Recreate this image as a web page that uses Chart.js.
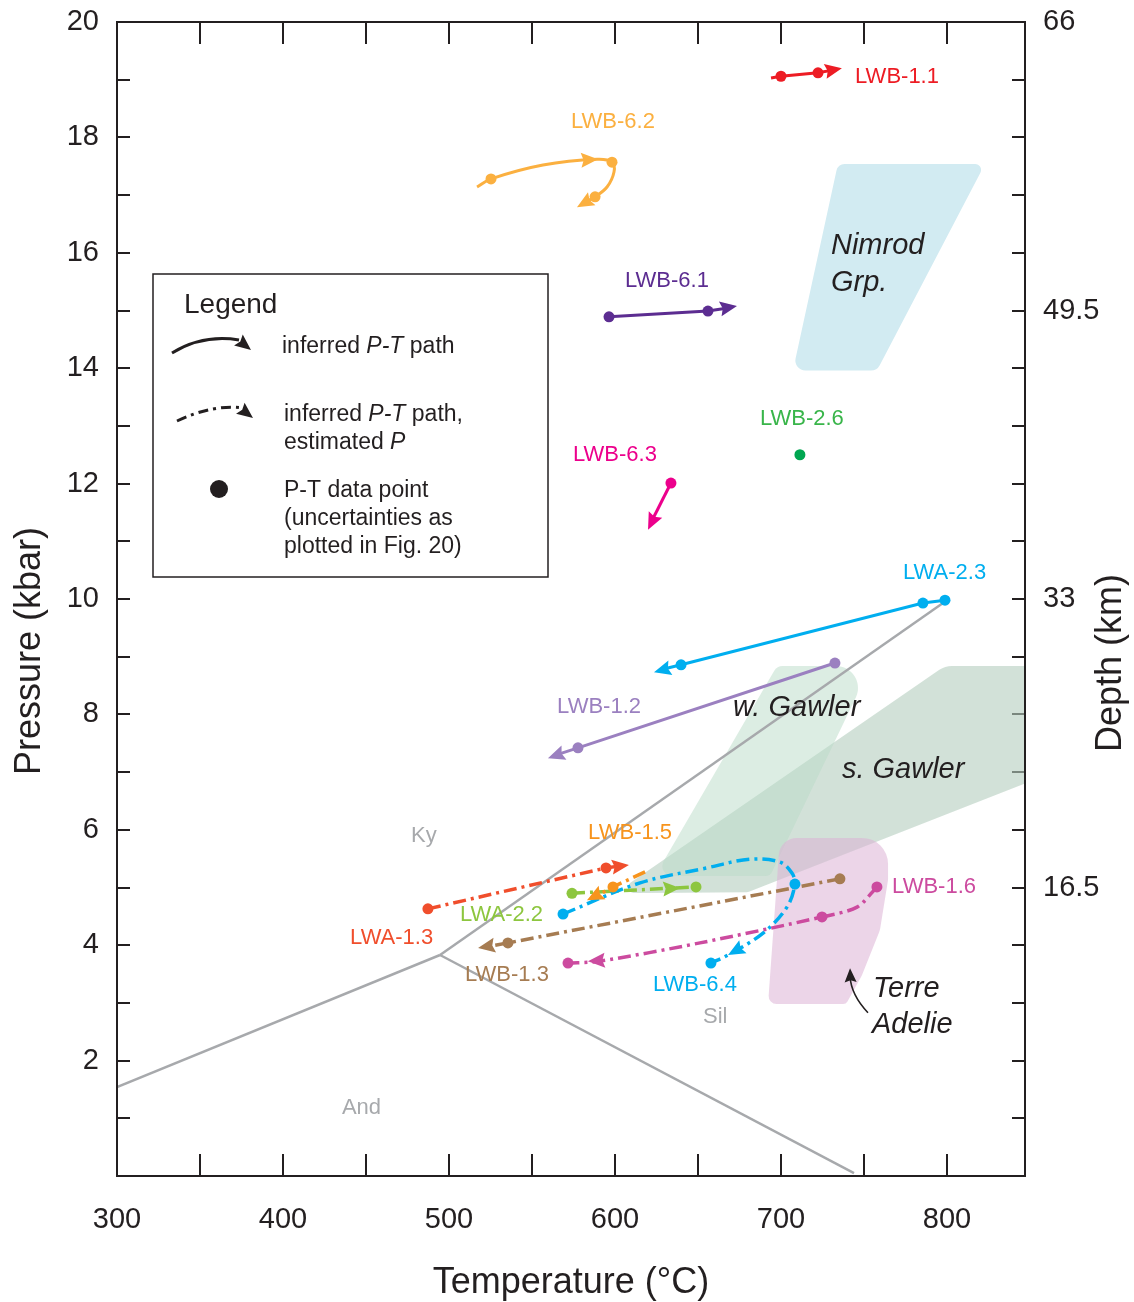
<!DOCTYPE html>
<html>
<head>
<meta charset="utf-8">
<title>P-T paths</title>
<script src="https://cdn.jsdelivr.net/npm/chart.js@4.4.1/dist/chart.umd.min.js"></script>
<style>
  html, body { margin: 0; padding: 0; background: #ffffff; }
  #wrap { width: 1134px; height: 1302px; position: relative; }
</style>
</head>
<body>
<div id="wrap"><canvas id="pt"></canvas></div>
<script>
const FONT = '"Liberation Sans", Arial, Helvetica, sans-serif';
const INK = '#231F20';

// ---- axis ticks ----
const tempTicks = [300, 400, 500, 600, 700, 800];
const pressureTicks = [2, 4, 6, 8, 10, 12, 14, 16, 18, 20];
const depthTicks = [16.5, 33, 49.5, 66];

// ---- Al2SiO5 phase boundaries [T (°C), P (kbar)] ----
const kyaniteSillimanite = [[494.6, 3.83], [797.6, 9.93]];
const kyaniteAndalusite = [[494.6, 3.83], [300, 1.54]];
const andalusiteSillimanite = [[494.6, 3.83], [744, 0.05]];

// ---- comparison P-T fields ----
const nimrodField = [[734.3, 17.54], [822.9, 17.54], [757.8, 13.96], [707.2, 13.96]];
const wGawlerField = [[697.6, 8.84], [754.2, 8.84], [693.4, 5.20], [624.1, 5.20]];
const sGawlerField = [[600.0, 4.90], [798.8, 8.84], [852, 8.84], [852, 6.86], [680.1, 4.92]];
const terreAdelieField = [[699.4, 5.86], [764.5, 5.86], [764.5, 5.13], [759.6, 4.26], [748.8, 3.48], [739.2, 2.98], [692.2, 2.98]];

// ---- samples: path, P-T data points, arrows [from, tip] ----
const lwb11Path = [[694, 19.03], [700, 19.06], [722.3, 19.12], [732, 19.17]];
const lwb11Points = [[700, 19.06], [722.3, 19.12]];
const lwb11Arrows = [[[722.3, 19.12], [736.7, 19.20]]];

const lwb62Path = [[516.9, 17.14], [525.3, 17.28], [556.6, 17.52], [589.2, 17.62], [598.2, 17.57], [599.4, 17.40], [595.2, 17.14], [588.0, 16.97], [581, 16.86]];
const lwb62Points = [[525.3, 17.28], [598.2, 17.57], [588.0, 16.97]];
const lwb62Arrows = [[[578, 17.60], [589.8, 17.62]], [[588.0, 16.97], [577.1, 16.79]]];

const lwb61Path = [[596.4, 14.89], [656.0, 14.99], [667, 15.04]];
const lwb61Points = [[596.4, 14.89], [656.0, 14.99]];
const lwb61Arrows = [[[656.0, 14.99], [673.5, 15.08]]];

const lwb63Path = [[633.7, 12.01], [623, 11.40]];
const lwb63Points = [[633.7, 12.01]];
const lwb63Arrows = [[[633.7, 12.01], [619.9, 11.20]]];

const lwb26Points = [[711.4, 12.50]];

const lwa23Path = [[798.8, 9.98], [785.5, 9.93], [639.8, 8.86], [630, 8.79]];
const lwa23Points = [[798.8, 9.98], [785.5, 9.93], [639.8, 8.86]];
const lwa23Arrows = [[[639.8, 8.86], [623.5, 8.73]]];

const lwb12Path = [[732.5, 8.89], [577.7, 7.42], [567, 7.32]];
const lwb12Points = [[732.5, 8.89], [577.7, 7.42]];
const lwb12Arrows = [[[577.7, 7.42], [559.6, 7.24]]];

const lwa13Path = [[487.3, 4.63], [594.6, 5.34], [602, 5.37]];
const lwa13Points = [[487.3, 4.63], [594.6, 5.34]];
const lwa13Arrows = [[[594.6, 5.34], [608.4, 5.39]]];

const lwb15Path = [[618.1, 5.27], [598.8, 5.01], [590, 4.87]];
const lwb15Points = [[598.8, 5.01]];
const lwb15Arrows = [[[598.8, 5.01], [583.1, 4.78]]];

const lwa22Path = [[574.1, 4.90], [648.8, 5.01]];
const lwa22Points = [[574.1, 4.90], [648.8, 5.01]];
const lwa22Arrows = [[[620, 4.96], [639.2, 4.99]]];

const lwb64Path = [[568.7, 4.54], [615.1, 5.08], [655.4, 5.34], [681.3, 5.49], [699.4, 5.44], [706.6, 5.25], [708.4, 5.06], [703.6, 4.66], [689.2, 4.21], [668.1, 3.83], [657.8, 3.69]];
const lwb64Points = [[568.7, 4.54], [708.4, 5.06], [657.8, 3.69]];
const lwb64Arrows = [[[680, 4.02], [668.1, 3.83]]];

const lwb13Path = [[735.5, 5.15], [535.5, 4.04], [524, 3.98]];
const lwb13Points = [[735.5, 5.15], [535.5, 4.04]];
const lwb13Arrows = [[[535.5, 4.04], [517.5, 3.95]]];

const lwb16Path = [[757.8, 5.01], [745.8, 4.66], [724.7, 4.49], [651.2, 4.04], [590, 3.72], [571.7, 3.69]];
const lwb16Points = [[757.8, 5.01], [724.7, 4.49], [571.7, 3.69]];
const lwb16Arrows = [[[600, 3.75], [583.7, 3.72]]];

const samples = [
  { name: 'LWB-1.1', color: '#ED1C24', dashed: false, tension: 0, path: lwb11Path, points: lwb11Points, arrows: lwb11Arrows },
  { name: 'LWB-6.2', color: '#FBB040', dashed: false, tension: 0.35, path: lwb62Path, points: lwb62Points, arrows: lwb62Arrows },
  { name: 'LWB-6.1', color: '#5C2D91', dashed: false, tension: 0, path: lwb61Path, points: lwb61Points, arrows: lwb61Arrows },
  { name: 'LWB-6.3', color: '#EC008C', dashed: false, tension: 0, path: lwb63Path, points: lwb63Points, arrows: lwb63Arrows },
  { name: 'LWB-2.6', color: '#00A651', dashed: false, tension: 0, path: null, points: lwb26Points, arrows: [] },
  { name: 'LWA-2.3', color: '#00AEEF', dashed: false, tension: 0, path: lwa23Path, points: lwa23Points, arrows: lwa23Arrows },
  { name: 'LWB-1.2', color: '#9B80C0', dashed: false, tension: 0, path: lwb12Path, points: lwb12Points, arrows: lwb12Arrows },
  { name: 'LWA-1.3', color: '#F04E2C', dashed: true, tension: 0, path: lwa13Path, points: lwa13Points, arrows: lwa13Arrows },
  { name: 'LWB-1.3', color: '#A67C52', dashed: true, tension: 0, path: lwb13Path, points: lwb13Points, arrows: lwb13Arrows },
  { name: 'LWB-1.6', color: '#CC4B9F', dashed: true, tension: 0.3, path: lwb16Path, points: lwb16Points, arrows: lwb16Arrows },
  { name: 'LWB-1.5', color: '#F7941D', dashed: true, tension: 0, path: lwb15Path, points: lwb15Points, arrows: lwb15Arrows },
  { name: 'LWB-6.4', color: '#00AEEF', dashed: true, tension: 0.35, path: lwb64Path, points: lwb64Points, arrows: lwb64Arrows },
  { name: 'LWA-2.2', color: '#8DC63F', dashed: true, tension: 0, path: lwa22Path, points: lwa22Points, arrows: lwa22Arrows }
];

// sample name labels: text, anchor T, anchor P, colour
const sampleLabels = [
  ['LWB-1.1', 744.6, 19.05, '#ED1C24'],
  ['LWB-6.2', 573.5, 18.27, '#FBB040'],
  ['LWB-6.1', 606.0, 15.51, '#5C2D91'],
  ['LWB-2.6', 687.3, 13.12, '#39B54A'],
  ['LWB-6.3', 574.7, 12.50, '#EC008C'],
  ['LWA-2.3', 773.5, 10.45, '#00AEEF'],
  ['LWB-1.2', 565.1, 8.13, '#9B80C0'],
  ['LWB-1.5', 583.8, 5.94, '#F7941D'],
  ['LWA-2.2', 506.6, 4.52, '#8DC63F'],
  ['LWA-1.3', 440.4, 4.12, '#F04E2C'],
  ['LWB-1.3', 509.6, 3.48, '#A67C52'],
  ['LWB-6.4', 622.9, 3.31, '#00AEEF'],
  ['LWB-1.6', 766.9, 5.01, '#CC4B9F']
];
const phaseLabels = [['Ky', 477.1, 5.89], ['Sil', 653.0, 2.76], ['And', 435.5, 1.18]];
const fieldLabels = [
  ['Nimrod', 730.1, 16.12], ['Grp.', 730.1, 15.48],
  ['w. Gawler', 671.1, 8.11], ['s. Gawler', 736.7, 7.04],
  ['Terre', 755.4, 3.24], ['Adelie', 754.8, 2.62]
];
// pointer from the Terre Adelie label into its field
const adeliePointer = [[752.4, 2.83], [742.2, 3.14], [741.6, 3.60]];

const xy = arr => arr.map(([x, y]) => ({ x, y }));

const datasets = [];
[kyaniteSillimanite, kyaniteAndalusite, andalusiteSillimanite].forEach(line => {
  datasets.push({
    data: xy(line), showLine: true, borderColor: '#A7A9AC', borderWidth: 2.5,
    pointRadius: 0, order: 100, yAxisID: 'y'
  });
});
samples.forEach(s => {
  if (s.path) {
    datasets.push({
      label: s.name, data: xy(s.path), showLine: true, borderColor: s.color,
      borderWidth: s.dashed ? 3.5 : 3, borderDash: s.dashed ? [13, 5, 3, 5] : [],
      tension: s.tension, pointRadius: 0, order: 10, yAxisID: 'y'
    });
  }
  datasets.push({
    label: s.name + ' data', data: xy(s.points), showLine: false,
    pointRadius: 5.5, pointBackgroundColor: s.color, pointBorderWidth: 0,
    order: 1, yAxisID: 'y'
  });
});

function roundedShape(ctx, pts, radii) {
  const n = pts.length;
  const mid = (p, q) => [(p[0] + q[0]) / 2, (p[1] + q[1]) / 2];
  const start = mid(pts[n - 1], pts[0]);
  ctx.beginPath();
  ctx.moveTo(start[0], start[1]);
  for (let i = 0; i < n; i++) {
    const p = pts[i], q = pts[(i + 1) % n];
    const m = mid(p, q);
    ctx.arcTo(p[0], p[1], m[0], m[1], radii[i]);
  }
  ctx.closePath();
}

function arrowHead(ctx, from, tip, color, len, half) {
  const ang = Math.atan2(tip[1] - from[1], tip[0] - from[0]);
  ctx.save();
  ctx.translate(tip[0], tip[1]);
  ctx.rotate(ang);
  ctx.fillStyle = color;
  ctx.beginPath();
  ctx.moveTo(0, 0);
  ctx.lineTo(-len, -half);
  ctx.lineTo(-len * 0.85, 0);
  ctx.lineTo(-len, half);
  ctx.closePath();
  ctx.fill();
  ctx.restore();
}

function richText(ctx, x, y, parts, size) {
  let cx = x;
  parts.forEach(([txt, italic]) => {
    ctx.font = (italic ? 'italic ' : '') + size + 'px ' + FONT;
    ctx.fillText(txt, cx, y);
    cx += ctx.measureText(txt).width;
  });
}

// keep the plot frame exactly where the layout puts it
function noScalePadding(s) {
  s.paddingTop = 0; s.paddingBottom = 0; s.paddingLeft = 0; s.paddingRight = 0;
}

const decor = {
  id: 'decor',
  beforeDatasetsDraw(chart) {
    const { ctx, chartArea: a, scales: { x, y } } = chart;
    const px = v => [x.getPixelForValue(v[0]), y.getPixelForValue(v[1])];
    ctx.save();
    // inward tick marks
    ctx.strokeStyle = INK;
    ctx.lineWidth = 2;
    ctx.beginPath();
    for (let p = 1; p < 20; p++) {
      const yy = Math.round(y.getPixelForValue(p));
      ctx.moveTo(a.left, yy); ctx.lineTo(a.left + 13, yy);
      ctx.moveTo(a.right, yy); ctx.lineTo(a.right - 13, yy);
    }
    for (let t = 350; t <= 800; t += 50) {
      const xx = Math.round(x.getPixelForValue(t));
      ctx.moveTo(xx, a.top); ctx.lineTo(xx, a.top + 22);
      ctx.moveTo(xx, a.bottom); ctx.lineTo(xx, a.bottom - 22);
    }
    ctx.stroke();

    // P-T fields
    ctx.beginPath();
    ctx.rect(a.left, a.top, a.right - a.left, a.bottom - a.top);
    ctx.clip();
    roundedShape(ctx, sGawlerField.map(px), [6, 22, 0, 0, 6]);
    ctx.fillStyle = 'rgba(180,205,190,0.6)';
    ctx.fill();
    roundedShape(ctx, wGawlerField.map(px), [10, 22, 8, 10]);
    ctx.fillStyle = 'rgba(185,219,199,0.5)';
    ctx.fill();
    roundedShape(ctx, nimrodField.map(px), [8, 6, 10, 10]);
    ctx.fillStyle = '#D2EBF2';
    ctx.fill();
    roundedShape(ctx, terreAdelieField.map(px), [18, 26, 20, 20, 10, 5, 8]);
    ctx.fillStyle = 'rgba(220,178,214,0.55)';
    ctx.fill();
    ctx.restore();
  },
  afterDatasetsDraw(chart) {
    const { ctx, chartArea: a, scales: { x, y } } = chart;
    const px = v => [x.getPixelForValue(v[0]), y.getPixelForValue(v[1])];
    ctx.save();

    // arrowheads on the paths
    samples.forEach(s => s.arrows.forEach(([from, tip]) => {
      arrowHead(ctx, px(from), px(tip), s.color, 17, 7.5);
    }));

    // plot frame
    ctx.strokeStyle = INK;
    ctx.lineWidth = 2;
    ctx.strokeRect(a.left, a.top, a.right - a.left, a.bottom - a.top);

    // labels
    ctx.textBaseline = 'middle';
    ctx.textAlign = 'left';
    ctx.font = '22px ' + FONT;
    sampleLabels.forEach(([t, T, P, c]) => {
      ctx.fillStyle = c;
      ctx.fillText(t, x.getPixelForValue(T), y.getPixelForValue(P));
    });
    ctx.fillStyle = '#A7A9AC';
    ctx.font = '22px ' + FONT;
    phaseLabels.forEach(([t, T, P]) => ctx.fillText(t, x.getPixelForValue(T), y.getPixelForValue(P)));
    ctx.fillStyle = INK;
    ctx.font = 'italic 29px ' + FONT;
    fieldLabels.forEach(([t, T, P]) => ctx.fillText(t, x.getPixelForValue(T), y.getPixelForValue(P)));

    // pointer into the Terre Adelie field
    const ap = adeliePointer.map(px);
    ctx.strokeStyle = INK;
    ctx.lineWidth = 1.6;
    ctx.beginPath();
    ctx.moveTo(ap[0][0], ap[0][1]);
    ctx.quadraticCurveTo(ap[1][0], ap[1][1], ap[2][0], ap[2][1] + 8);
    ctx.stroke();
    arrowHead(ctx, [ap[2][0] + 0.5, ap[2][1] + 12], ap[2], INK, 14, 6);

    // legend box
    const L = a.left + 36, T = a.top + 252;
    ctx.lineWidth = 1.5;
    ctx.strokeRect(L, T, 395, 303);
    ctx.fillStyle = INK;
    ctx.font = '28px ' + FONT;
    ctx.fillText('Legend', L + 31, T + 31);
    // solid path sample
    ctx.lineWidth = 3;
    ctx.setLineDash([]);
    ctx.beginPath();
    ctx.moveTo(L + 19, T + 79);
    ctx.quadraticCurveTo(L + 50, T + 60, L + 86, T + 66);
    ctx.stroke();
    arrowHead(ctx, [L + 84, T + 65], [L + 98, T + 76], INK, 16, 7);
    // dashed path sample
    ctx.beginPath();
    ctx.setLineDash([10, 5, 3, 5]);
    ctx.moveTo(L + 24, T + 147);
    ctx.quadraticCurveTo(L + 60, T + 130, L + 90, T + 134);
    ctx.stroke();
    ctx.setLineDash([]);
    arrowHead(ctx, [L + 87, T + 134], [L + 100, T + 144], INK, 16, 7);
    // data point sample
    ctx.beginPath();
    ctx.arc(L + 66, T + 215, 9, 0, Math.PI * 2);
    ctx.fill();
    const tx = L + 129;
    richText(ctx, tx, T + 73, [['inferred ', false], ['P-T', true], [' path', false]], 23);
    richText(ctx, tx + 2, T + 141, [['inferred ', false], ['P-T', true], [' path,', false]], 23);
    richText(ctx, tx + 2, T + 169, [['estimated ', false], ['P', true]], 23);
    richText(ctx, tx + 2, T + 217, [['P-T data point', false]], 23);
    richText(ctx, tx + 2, T + 245, [['(uncertainties as', false]], 23);
    richText(ctx, tx + 2, T + 273, [['plotted in Fig. 20)', false]], 23);

    // vertical axis titles
    ctx.font = '36px ' + FONT;
    ctx.textAlign = 'center';
    ctx.save();
    ctx.translate(30, a.top + 629);
    ctx.rotate(-Math.PI / 2);
    ctx.fillText('Pressure (kbar)', 0, 0);
    ctx.restore();
    ctx.save();
    ctx.translate(a.right + 86, a.top + 641);
    ctx.rotate(-Math.PI / 2);
    ctx.fillText('Depth (km)', 0, 0);
    ctx.restore();

    ctx.restore();
  }
};

const tickFont = { family: FONT, size: 29 };

new Chart(document.getElementById('pt'), {
  type: 'scatter',
  data: { datasets },
  options: {
    responsive: true,
    maintainAspectRatio: false,
    animation: false,
    events: [],
    layout: { padding: { top: 22, left: 0, right: 0, bottom: 0 } },
    plugins: { legend: { display: false }, tooltip: { enabled: false } },
    scales: {
      x: {
        type: 'linear', position: 'bottom', min: 300, max: 847,
        grid: { display: false, drawTicks: false }, border: { display: false },
        afterBuildTicks: s => { s.ticks = tempTicks.map(v => ({ value: v })); },
        afterFit: s => { s.height = 126; noScalePadding(s); },
        ticks: { font: tickFont, color: INK, padding: 27, maxRotation: 0, autoSkip: false, callback: v => String(v) },
        title: { display: true, text: 'Temperature (°C)', color: INK, font: { family: FONT, size: 36, lineHeight: 1.0 }, padding: { top: 0, bottom: 1 } }
      },
      y: {
        type: 'linear', position: 'left', min: 0, max: 20,
        grid: { display: false, drawTicks: false }, border: { display: false },
        afterBuildTicks: s => { s.ticks = pressureTicks.map(v => ({ value: v })); },
        afterFit: s => { s.width = 117; noScalePadding(s); },
        ticks: { font: tickFont, color: INK, padding: 18, autoSkip: false, callback: v => String(v) }
      },
      y2: {
        type: 'linear', position: 'right', min: 0, max: 66,
        grid: { display: false, drawTicks: false }, border: { display: false },
        afterBuildTicks: s => { s.ticks = depthTicks.map(v => ({ value: v })); },
        afterFit: s => { s.width = 109; noScalePadding(s); },
        ticks: { font: tickFont, color: INK, padding: 18, autoSkip: false, callback: v => String(v) }
      }
    }
  },
  plugins: [decor]
});
</script>
</body>
</html>
